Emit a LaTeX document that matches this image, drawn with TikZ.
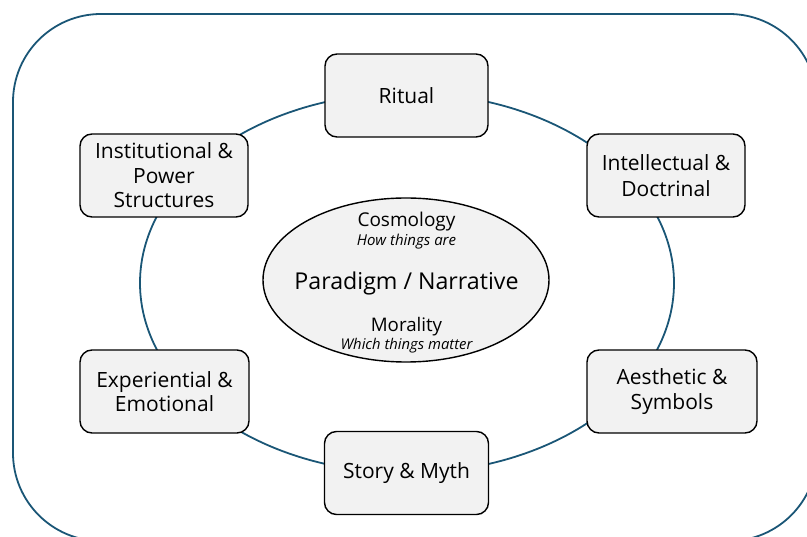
\documentclass[tikz,border=0pt]{standalone}
\usepackage{fontspec}
\setmainfont{Open Sans}
\usetikzlibrary{shapes.geometric}
\definecolor{ringblue}{HTML}{1A5676}
\definecolor{boxfill}{HTML}{F2F2F2}
\begin{document}
\begin{tikzpicture}[x=1pt,y=-1pt,
  box/.style={draw=black,line width=1.4pt,fill=boxfill,rounded corners=12pt,
    align=center,inner sep=0pt,font=\fontsize{21}{24.5}\selectfont},
  ctext/.style={anchor=base,inner sep=0pt},
]
\useasboundingbox (0,0) rectangle (807,537);
\begin{scope}
  \clip (0,0) rectangle (807,537);
  \draw[ringblue,line width=1.8pt,rounded corners=88pt] (13,14) rectangle (817,541);
\end{scope}
\node[ellipse,draw=ringblue,line width=1.8pt,minimum width=534pt,minimum height=380pt,inner sep=0pt] (ring) at (407,283) {};
\node[box,minimum width=163pt,minimum height=83pt] (ritual) at (406.5,95.5) {Ritual};
\node[box,minimum width=168pt,minimum height=83pt] (inst) at (164,175.5) {Institutional \&\\Power\\Structures};
\node[box,minimum width=158pt,minimum height=83pt,font=\fontsize{21}{26}\selectfont] (intel) at (666,175.5) {Intellectual \&\\Doctrinal};
\node[box,minimum width=169pt,minimum height=83pt] (exper) at (164.5,391.5) {Experiential \&\\Emotional};
\node[box,minimum width=170pt,minimum height=83pt] (aesth) at (672,391.5) {Aesthetic \&\\Symbols};
\node[box,minimum width=164pt,minimum height=83pt] (story) at (406.5,473) {Story \& Myth};
\node[ellipse,draw=black,line width=1.4pt,fill=boxfill,minimum width=286pt,minimum height=164pt,inner sep=0pt] (core) at (406,280) {};
\node[ctext,font=\fontsize{19}{22}\selectfont] (cosmo) at (406.5,227) {Cosmology};
\node[ctext,font=\fontsize{15}{18}\selectfont\itshape] (cosmosub) at (406.5,246) {How things are};
\node[ctext,font=\fontsize{23.2}{28}\selectfont] (para) at (406.5,290) {Paradigm / Narrative};
\node[ctext,font=\fontsize{18.7}{22}\selectfont] (moral) at (406.5,332) {Morality};
\node[ctext,font=\fontsize{14.8}{18}\selectfont\itshape] (moralsub) at (406.5,350) {Which things matter};
\end{tikzpicture}
\end{document}
